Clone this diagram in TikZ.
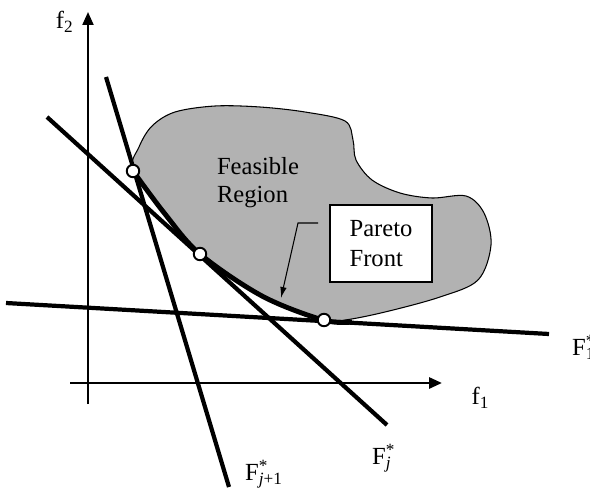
\documentclass[tikz,border=0pt]{standalone}
\usepackage{fontspec}
\setmainfont{Liberation Serif}
\usepackage{tikz}
\usetikzlibrary{arrows.meta, positioning, calc}

\newcommand{\starsub}[1]{\rlap{\textsuperscript{*}}\textsubscript{#1}}

\begin{document}
\begin{tikzpicture}[
    x=0.02cm, y=-0.02cm,
    axis/.style={-{Triangle[length=2.6mm, width=2.2mm]}, line width=1.2pt},
    tangent/.style={line width=2.4pt},
    region/.style={fill=black!30, draw=black, line width=0.6pt},
    front/.style={line width=2.8pt},
    optpoint/.style={circle, draw, fill=white, line width=1.1pt, minimum size=0.25cm, inner sep=0pt},
    label/.style={font=\fontsize{14}{16}\selectfont, inner sep=1pt},
    box/.style={rectangle, draw, fill=white, line width=0.7pt, minimum width=2.04cm, minimum height=1.54cm, align=left, font=\fontsize{14}{17}\selectfont},
    pointer/.style={-{Latex[length=2.2mm, width=1.3mm]}, line width=0.6pt}
]
\useasboundingbox (0,0) rectangle (590,493);

% === Feasible region ===
\filldraw[region] plot[smooth cycle, tension=0.55] coordinates {
    (133,171) (139,147) (152,126) (175,112) (215,106) (260,107) (305,112)
    (345,121) (353,140) (356,160) (372,180) (400,193) (432,198) (466,196)
    (484,213) (491,245) (478,280) (440,297) (385,312) (345,320) (323,320)
    (262,296) (200,254) (165,214)};

% Pareto front (thick lower-left boundary)
\draw[front] plot[smooth, tension=0.55] coordinates {
    (133,171) (165,214) (200,254) (262,296) (323,320) (352,322)};

% === Axes ===
\coordinate (yfoot) at (88,404);
\coordinate (ytip) at (88,12);
\coordinate (xfoot) at (70,383);
\coordinate (xtip) at (442,383);
\draw[axis] (yfoot) -- (ytip);
\draw[axis, line width=1.6pt] (xfoot) -- (xtip);
\node[label, left=7pt of ytip, yshift=-0.2cm] (f2) {f\textsubscript{2}};
\node[label, below right=0.05cm and 0.55cm of xtip] (f1) {f\textsubscript{1}};

% === Supporting lines ===
\coordinate (a1) at (6,303);   \coordinate (b1) at (549,334);
\coordinate (aj) at (47,117);  \coordinate (bj) at (387,425);
\coordinate (ak) at (106,77);  \coordinate (bk) at (229,487);
\draw[tangent] (a1) -- (b1);
\draw[tangent] (aj) -- (bj);
\draw[tangent] (ak) -- (bk);

\node[label, anchor=west] (F1) at (570,347) {F\starsub{1}};
\node[label, anchor=west] (Fj) at (370,458) {F\starsub{\textit{j}}};
\node[label, anchor=west] (Fk) at (243,474) {F\starsub{\textit{j}+1}};

% === Points where lines touch the front ===
\node[optpoint] (p1) at (133,171) {};
\node[optpoint] (p2) at (200,254) {};
\node[optpoint] (p3) at (324,320) {};

% === Labels ===
\node[label, align=left] (feas) at (258,183) {Feasible\\Region};
\node[box] (pf) at (381,243.5) {Pareto\\Front};
\coordinate (lead) at (318,223);
\draw[pointer] (lead) -- ++(-20,0) -- (281,298);
\end{tikzpicture}
\end{document}
